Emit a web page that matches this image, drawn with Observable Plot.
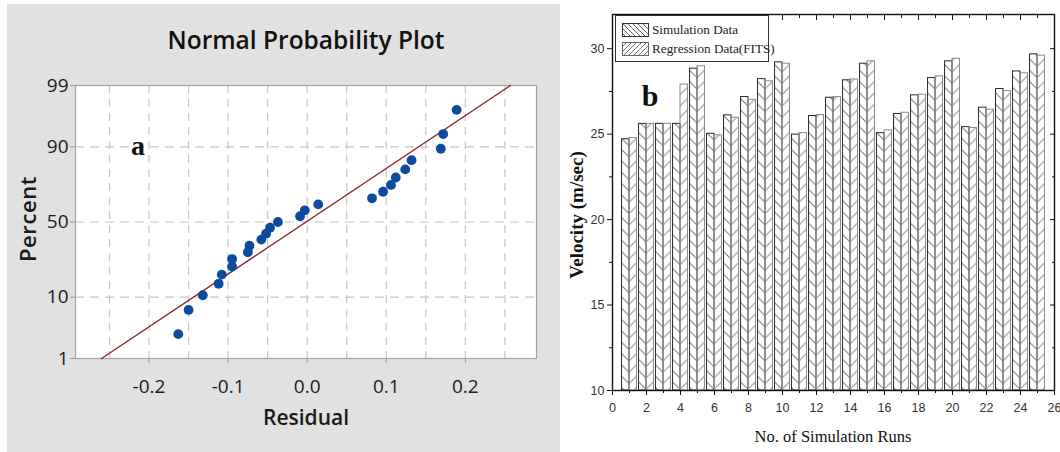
<!DOCTYPE html>
<html>
<head>
<meta charset="utf-8">
<script src="https://cdn.jsdelivr.net/npm/d3@7"></script>
<script src="https://cdn.jsdelivr.net/npm/@observablehq/plot@0.6"></script>
<style>
  html, body { margin: 0; padding: 0; background: white; }
  #root { position: relative; width: 1060px; height: 452px; overflow: hidden; background: white; }
  .abs { position: absolute; white-space: nowrap; transform: translate(-50%, -50%); line-height: 1; }
  #grayPanel { position: absolute; left: 7px; top: 4px; width: 553px; height: 448px; background: #e1e1e1; }
  #plotA { position: absolute; left: 0; top: 0; }
  #plotB { position: absolute; left: 540px; top: 0; }
  .sans { font-family: "Open Sans", "Noto Sans", sans-serif; color: #1a1a1a; }
  .serif { font-family: "Liberation Serif", "DejaVu Serif", serif; color: #111; }
  #legend { position: absolute; left: 615px; top: 15px; width: 152px; height: 45px; border: 1px solid #333; background: white; }
  .lrow { position: absolute; left: 6px; display: flex; align-items: center; white-space: nowrap; }
  .lrow span { font-family: "Liberation Serif", serif; font-size: 13.2px; color: #222; margin-left: 3px; white-space: nowrap; }
</style>
</head>
<body>
<div id="root">
  <svg width="0" height="0" style="position:absolute">
    <defs>
      <pattern id="hatchS" patternUnits="userSpaceOnUse" x="0" y="0" width="11.3333" height="11.3333">
        <path d="M0,0 L11.3333,11.3333 M-2,9.3333 L2,13.3333 M9.3333,-2 L13.3333,2" stroke="#777" stroke-width="1" fill="none"/>
      </pattern>
      <pattern id="hatchR" patternUnits="userSpaceOnUse" x="0" y="8" width="11.3333" height="11.3333">
        <path d="M0,11.3333 L11.3333,0 M-2,2 L2,-2 M9.3333,13.3333 L13.3333,9.3333" stroke="#888" stroke-width="1" fill="none"/>
      </pattern>
      <pattern id="legS" patternUnits="userSpaceOnUse" width="5" height="5">
        <path d="M0,0 L5,5 M-1,4 L1,6 M4,-1 L6,1" stroke="#555" stroke-width="0.9" fill="none"/>
      </pattern>
      <pattern id="legR" patternUnits="userSpaceOnUse" width="5" height="5">
        <path d="M0,5 L5,0 M-1,1 L1,-1 M4,6 L6,4" stroke="#666" stroke-width="0.9" fill="none"/>
      </pattern>
    </defs>
  </svg>
  <div id="grayPanel"></div>
  <div id="plotA"></div>
  <div id="plotB"></div>

  <div class="abs sans" style="left:306px; top:40px; font-size:24.5px; font-weight:600; color:#111;">Normal Probability Plot</div>
  <div class="abs serif" style="left:138px; top:146px; font-size:28px; font-weight:bold;">a</div>
  <div class="abs sans" style="left:27px; top:219px; font-size:22px; font-weight:600; letter-spacing:0.6px; transform: translate(-50%,-50%) rotate(-90deg);">Percent</div>
  <div class="abs sans" style="left:306px; top:417px; font-size:21px; font-weight:600;">Residual</div>

  <div class="abs serif" style="left:650px; top:96px; font-size:30px; font-weight:bold;">b</div>
  <div class="abs serif" style="left:576px; top:215px; font-size:19px; font-weight:bold; transform: translate(-50%,-50%) rotate(-90deg);">Velocity (m/sec)</div>
  <div class="abs serif" style="left:833px; top:437px; font-size:16.5px;">No. of Simulation Runs</div>

  <div id="legend">
    <div class="lrow" style="top:6px;">
      <svg width="27" height="14"><rect x="0.5" y="0.5" width="26" height="13" fill="url(#legS)" stroke="#333"/></svg>
      <span>Simulation Data</span>
    </div>
    <div class="lrow" style="top:25px;">
      <svg width="27" height="14"><rect x="0.5" y="0.5" width="26" height="13" fill="url(#legR)" stroke="#666"/></svg>
      <span>Regression Data(FITS)</span>
    </div>
  </div>
</div>

<script>
// ---------- Panel (a): Normal probability plot of residuals ----------
const residuals = [-0.163, -0.150, -0.132, -0.112, -0.108, -0.095, -0.095, -0.075, -0.073, -0.058,
                   -0.052, -0.047, -0.037, -0.009, -0.003, 0.014, 0.082, 0.096, 0.106, 0.112,
                   0.124, 0.132, 0.169, 0.172, 0.189];
const percents  = [2.8, 6.7, 10.6, 14.6, 18.5, 22.4, 26.4, 30.3, 34.3, 38.2,
                   42.1, 46.1, 50.0, 53.9, 57.9, 61.8, 65.7, 69.7, 73.6, 77.6,
                   81.5, 85.4, 89.4, 93.3, 97.2];
const fitResidual = [-0.260, 0.257];
const fitPercent  = [1, 99];
const percentTicks  = [1, 10, 50, 90, 99];
const residualTicks = [-0.2, -0.1, 0.0, 0.1, 0.2];
const residualGrid  = [-0.25, -0.2, -0.15, -0.1, -0.05, 0, 0.05, 0.1, 0.15, 0.2, 0.25];
const percentGrid   = [10, 50, 90];
const residualDomain = [-0.293, 0.290];

// ---------- Panel (b): Velocity bars ----------
const runs   = [1,2,3,4,5,6,7,8,9,10,11,12,13,14,15,16,17,18,19,20,21,22,23,24,25];
const simVel = [24.70, 25.60, 25.60, 25.60, 28.83, 25.02, 26.10, 27.17, 28.22, 29.20,
                24.97, 26.06, 27.13, 28.15, 29.12, 25.06, 26.18, 27.27, 28.28, 29.26,
                25.41, 26.55, 27.64, 28.67, 29.67];
const regVel = [24.77, 25.60, 25.60, 27.90, 28.97, 24.93, 25.96, 27.01, 28.09, 29.12,
                25.06, 26.12, 27.17, 28.20, 29.26, 25.22, 26.25, 27.31, 28.38, 29.41,
                25.36, 26.43, 27.52, 28.56, 29.59];
const velTicks    = [10, 15, 20, 25, 30];
const velMinor    = [12.5, 17.5, 22.5, 27.5];
const runTicks    = [0, 2, 4, 6, 8, 10, 12, 14, 16, 18, 20, 22, 24, 26];
const runMinor    = [1, 3, 5, 7, 9, 11, 13, 15, 17, 19, 21, 23, 25];
const velDomain   = [10, 32];
const runDomain   = [0, 26];

// inverse standard normal CDF (Acklam)
function probit(p) {
  const a=[-3.969683028665376e+01,2.209460984245205e+02,-2.759285104469687e+02,1.383577518672690e+02,-3.066479806614716e+01,2.506628277459239e+00];
  const b=[-5.447609879822406e+01,1.615858368580409e+02,-1.556989798598866e+02,6.680131188771972e+01,-1.328068155288572e+01];
  const c=[-7.784894002430293e-03,-3.223964580411365e-01,-2.400758277161838e+00,-2.549732539343734e+00,4.374664141464968e+00,2.938163982698783e+00];
  const d=[7.784695709041462e-03,3.224671290700398e-01,2.445134137142996e+00,3.754408661907416e+00];
  const pl = 0.02425, ph = 1 - pl; let q, r;
  if (p < pl) { q = Math.sqrt(-2*Math.log(p)); return (((((c[0]*q+c[1])*q+c[2])*q+c[3])*q+c[4])*q+c[5])/((((d[0]*q+d[1])*q+d[2])*q+d[3])*q+1); }
  if (p <= ph) { q = p - 0.5; r = q*q; return (((((a[0]*r+a[1])*r+a[2])*r+a[3])*r+a[4])*r+a[5])*q/(((((b[0]*r+b[1])*r+b[2])*r+b[3])*r+b[4])*r+1); }
  q = Math.sqrt(-2*Math.log(1-p)); return -(((((c[0]*q+c[1])*q+c[2])*q+c[3])*q+c[4])*q+c[5])/((((d[0]*q+d[1])*q+d[2])*q+d[3])*q+1);
}
const z = pct => probit(pct / 100);

const points = residuals.map((r, i) => ({r, z: z(percents[i])}));
const fitLine = fitResidual.map((r, i) => ({r, z: z(fitPercent[i])}));
const zTicks = percentTicks.map(z);
const zGrid = percentGrid.map(z);

const plotA = Plot.plot({
  width: 560, height: 452,
  marginLeft: 75, marginRight: 24, marginTop: 85, marginBottom: 94,
  style: "background: transparent; overflow: visible; font-family: 'Open Sans', sans-serif;",
  x: {domain: residualDomain, label: null},
  y: {domain: [z(1), z(99)], label: null},
  marks: [
    Plot.frame({fill: "white", stroke: "none"}),
    Plot.ruleX(residualGrid, {stroke: "#c6c6c6", strokeWidth: 1.2, strokeDasharray: "8,6"}),
    Plot.ruleY(zGrid, {stroke: "#c6c6c6", strokeWidth: 1.2, strokeDasharray: "9,6"}),
    Plot.frame({stroke: "#a3a3a3", strokeWidth: 1.2}),
    Plot.axisX(residualTicks, {anchor: "bottom", tickSize: 5, tickPadding: 16, fontSize: 19, fontWeight: 500,
      stroke: "#999", fill: "#1a1a1a", tickFormat: d => d.toFixed(1), label: null}),
    Plot.axisY(zTicks, {anchor: "left", tickSize: 5, tickPadding: 2, fontSize: 19, fontWeight: 500,
      stroke: "#999", fill: "#1a1a1a", tickFormat: v => String(percentTicks[zTicks.indexOf(v)]), label: null}),
    Plot.line(fitLine, {x: "r", y: "z", stroke: "#9a1e1e", strokeWidth: 1.4}),
    Plot.dot(points, {x: "r", y: "z", r: 4.9, fill: "#0d4b9e", stroke: "none"})
  ]
});
document.getElementById("plotA").appendChild(plotA);

// ---------- Panel (b) ----------
const barWidth = 0.44;
const simRows = runs.map((run, i) => ({run, v: simVel[i]}));
const regRows = runs.map((run, i) => ({run, v: regVel[i]}));
const blank = () => "";

const plotB = Plot.plot({
  width: 520, height: 452,
  marginLeft: 72, marginRight: 6, marginTop: 14, marginBottom: 62,
  style: "background: transparent; overflow: visible; font-family: 'Liberation Sans', Arial, sans-serif;",
  x: {domain: runDomain, label: null},
  y: {domain: velDomain, label: null},
  marks: [
    Plot.rect(simRows, {x1: d => d.run - barWidth, x2: d => d.run, y1: () => velDomain[0], y2: "v",
      fill: "url(#hatchS)", stroke: "#2a2a2a", strokeWidth: 1}),
    Plot.rect(regRows, {x1: d => d.run, x2: d => d.run + barWidth, y1: () => velDomain[0], y2: "v",
      fill: "url(#hatchR)", stroke: "#8a8a8a", strokeWidth: 1}),
    Plot.frame({stroke: "#111", strokeWidth: 1.4}),
    Plot.axisY(velTicks, {anchor: "left", tickSize: 5, tickPadding: 3, fontSize: 12.5, stroke: "#111", fill: "#333", label: null}),
    Plot.axisY(velMinor, {anchor: "left", tickSize: 3, tickFormat: blank, stroke: "#111", label: null}),
    Plot.axisY(velTicks, {anchor: "right", tickSize: -5, tickFormat: blank, stroke: "#111", label: null}),
    Plot.axisY(velMinor, {anchor: "right", tickSize: -3, tickFormat: blank, stroke: "#111", label: null}),
    Plot.axisX(runTicks, {anchor: "bottom", tickSize: 5, tickPadding: 8, fontSize: 12.5, stroke: "#111", fill: "#333", label: null}),
    Plot.axisX(runMinor, {anchor: "bottom", tickSize: 3, tickFormat: blank, stroke: "#111", label: null}),
    Plot.axisX(runTicks, {anchor: "top", tickSize: -5, tickFormat: blank, stroke: "#111", label: null}),
    Plot.axisX(runMinor, {anchor: "top", tickSize: -3, tickFormat: blank, stroke: "#111", label: null})
  ]
});
document.getElementById("plotB").appendChild(plotB);
</script>
</body>
</html>
